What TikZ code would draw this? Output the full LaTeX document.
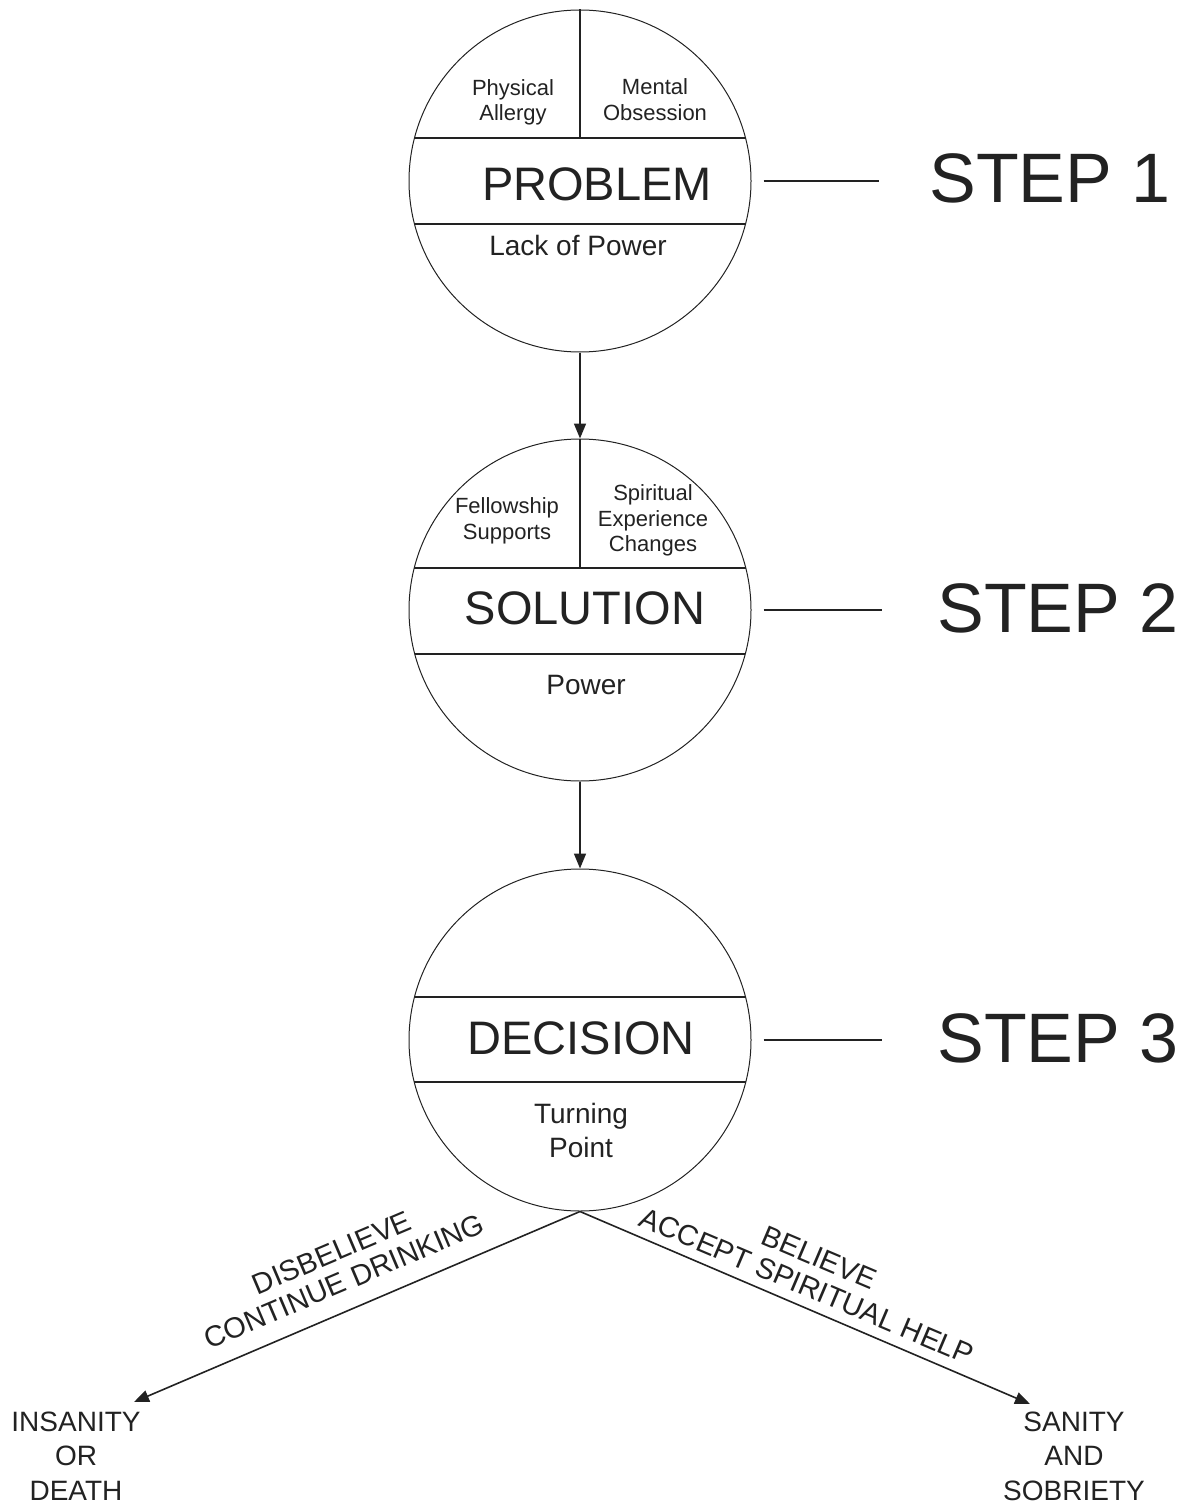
\documentclass[tikz,border=0pt]{standalone}
\usepackage{fontspec}
\setmainfont{Liberation Sans}
\usetikzlibrary{arrows.meta,calc}
\definecolor{ink}{HTML}{222222}
\begin{document}
\begin{tikzpicture}[x=1pt,y=-1pt,
  ring/.style={circle,draw=ink,line width=1pt,minimum size=342pt,inner sep=0pt},
  chord/.style={draw=ink,line width=2pt},
  divider/.style={draw=ink,line width=1.5pt},
  conn/.style={draw=ink,line width=1.6pt,-{Triangle[length=15pt,width=12pt]}},
  stepline/.style={draw=ink,line width=2pt},
  steplabel/.style={inner sep=0pt,text=ink,font=\fontsize{70}{70}\selectfont},
  title/.style={inner sep=0pt,text=ink,font=\fontsize{47}{47}\selectfont},
  sub/.style={inner sep=0pt,text=ink,align=center,font=\fontsize{28}{34}\selectfont},
  small/.style={inner sep=0pt,text=ink,align=center,font=\fontsize{22}{25.5}\selectfont},
  outcome/.style={inner sep=0pt,text=ink,align=center,font=\fontsize{28}{34.5}\selectfont},
  pathlabel/.style={inner sep=0pt,text=ink,align=center,font=\fontsize{29}{31}\selectfont},
]
\useasboundingbox (0,0) rectangle (1188,1506);

% circles
\node[ring] (c1) at (580,181) {};
\node[ring] (c2) at (580,610) {};
\node[ring] (c3) at (580,1040) {};

% chords
\begin{scope}
  \clip (580,181) circle[radius=171pt];
  \draw[chord] (400,138) -- (760,138);
  \draw[chord] (400,224) -- (760,224);
\end{scope}
\begin{scope}
  \clip (580,610) circle[radius=171pt];
  \draw[chord] (400,568) -- (760,568);
  \draw[chord] (400,654) -- (760,654);
\end{scope}
\begin{scope}
  \clip (580,1040) circle[radius=171pt];
  \draw[chord] (400,997) -- (760,997);
  \draw[chord] (400,1082) -- (760,1082);
\end{scope}
\draw[divider] (c1.north) -- (c1.north |- 0,138);
\draw[divider] (c2.north) -- (c2.north |- 0,568);

% texts in circle 1
\node[small] (pa) at (513,102.5) {Physical\\Allergy};
\node[small] (mo) at (655,99.5) {Mental\\Obsession};
\node[title] (prob) at (597,184) {PROBLEM};
\node[sub] (lop) at (578,245) {Lack of Power};

% texts in circle 2
\node[small] (fs) at (507,521) {Fellowship\\Supports};
\node[small] (sec) at (653,520.5) {Spiritual\\Experience\\Changes};
\node[title] (sol) at (585,608) {SOLUTION};
\node[sub] (pow) at (586,685) {Power};

% texts in circle 3
\node[title] (dec) at (581,1038) {DECISION};
\node[sub] (tp) at (581,1130) {Turning\\Point};

% steps
\node[steplabel] (s1) at (1050,178) {STEP 1};
\node[steplabel] (s2) at (1058,608) {STEP 2};
\node[steplabel] (s3) at (1058,1038) {STEP 3};
\draw[stepline] ([xshift=12pt]c1.east) -- ($(s1.west |- c1.east)+(-50,0)$);
\draw[stepline] ([xshift=12pt]c2.east) -- ($(s2.west |- c2.east)+(-55,0)$);
\draw[stepline] ([xshift=12pt]c3.east) -- ($(s3.west |- c3.east)+(-55,0)$);

% vertical connectors
\draw[conn] (c1.south) -- (c2.north);
\draw[conn] (c2.south) -- (c3.north);

% outcomes
\node[outcome] (ins) at (76,1456) {INSANITY\\OR\\DEATH};
\node[outcome] (san) at (1074,1456) {SANITY\\AND\\SOBRIETY};
\coordinate (tl) at (134,1402);
\coordinate (tr) at (1030,1404);
\draw[conn] (c3.south) -- (tl);
\draw[conn] (c3.south) -- (tr);

% path labels
\node[pathlabel,rotate=23] (lbl) at (338,1267) {DISBELIEVE\\CONTINUE DRINKING};
\node[pathlabel,rotate=-23] (lbr) at (813,1272) {BELIEVE\\ACCEPT SPIRITUAL HELP};
\end{tikzpicture}
\end{document}
